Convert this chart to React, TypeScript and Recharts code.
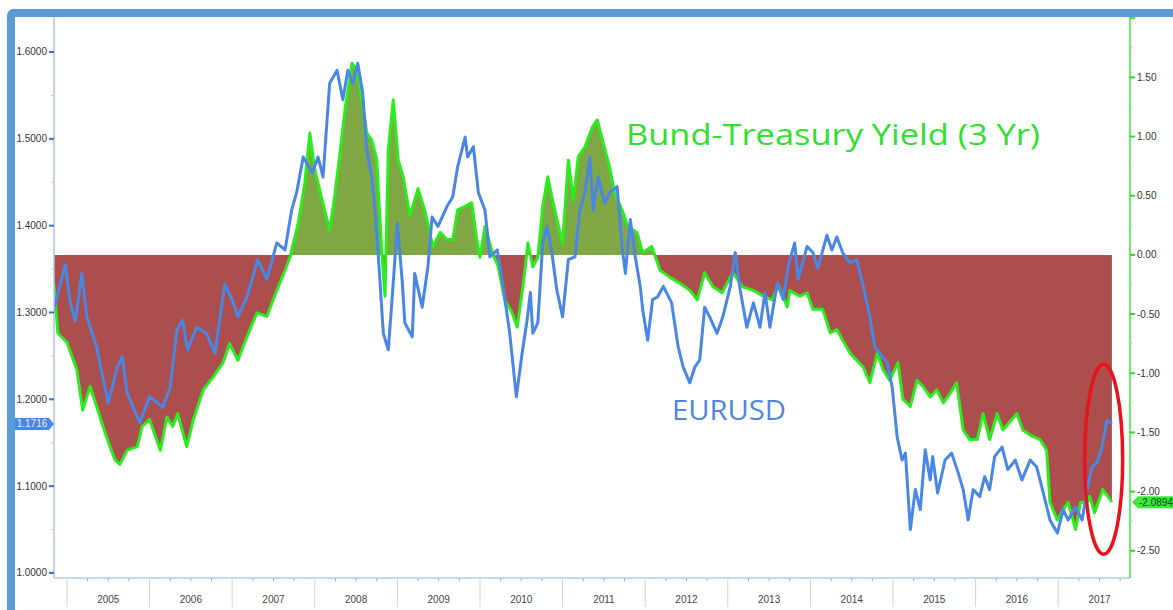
import { Area, ComposedChart, Line, ReferenceDot, XAxis, YAxis } from "recharts";

// Bund-Treasury 3yr spread, [decimal year, %]
const spreadSeries: [number, number][] = [
  [2004.84, -0.24], [2004.89, -0.66], [2005.0, -0.74], [2005.12, -0.97], [2005.19, -1.31], [2005.28, -1.11], [2005.4, -1.37],
  [2005.48, -1.54], [2005.58, -1.73], [2005.64, -1.77], [2005.73, -1.65], [2005.85, -1.62], [2005.91, -1.45],
  [2006.0, -1.39], [2006.13, -1.65], [2006.21, -1.37], [2006.28, -1.45], [2006.34, -1.34], [2006.45, -1.62], [2006.53, -1.39],
  [2006.65, -1.14], [2006.77, -1.03], [2006.89, -0.91], [2006.97, -0.75],
  [2007.07, -0.89], [2007.18, -0.69], [2007.3, -0.49], [2007.42, -0.52], [2007.54, -0.3], [2007.64, -0.13], [2007.7, -0.02],
  [2007.8, 0.27], [2007.88, 0.61], [2007.94, 1.03],
  [2008.0, 0.72], [2008.09, 0.46], [2008.18, 0.21], [2008.24, 0.49], [2008.31, 0.89], [2008.37, 1.25], [2008.45, 1.62],
  [2008.51, 1.56], [2008.57, 1.31], [2008.63, 1.03], [2008.69, 0.97], [2008.75, 0.8], [2008.81, 0.04], [2008.85, -0.35],
  [2008.89, 0.89], [2008.95, 1.31],
  [2009.01, 0.8], [2009.07, 0.66], [2009.15, 0.33], [2009.25, 0.56], [2009.33, 0.38], [2009.43, 0.07], [2009.52, 0.19],
  [2009.6, 0.13], [2009.67, 0.13], [2009.73, 0.38], [2009.82, 0.41], [2009.9, 0.44], [2009.96, 0.13],
  [2010.0, -0.02], [2010.06, 0.24], [2010.15, 0.02], [2010.22, -0.1], [2010.3, -0.38], [2010.39, -0.49], [2010.45, -0.61],
  [2010.52, -0.27], [2010.58, 0.1], [2010.64, -0.1], [2010.7, -0.02], [2010.76, 0.41], [2010.82, 0.66], [2010.88, 0.46], [2010.94, 0.27],
  [2011.0, 0.1], [2011.07, 0.8], [2011.13, 0.46], [2011.19, 0.83], [2011.27, 0.91], [2011.36, 1.08], [2011.42, 1.14],
  [2011.49, 0.95], [2011.57, 0.74], [2011.63, 0.52], [2011.72, 0.38], [2011.79, 0.24], [2011.9, 0.19], [2011.97, 0.02],
  [2012.08, 0.07], [2012.18, -0.13], [2012.3, -0.19], [2012.42, -0.24], [2012.54, -0.3], [2012.63, -0.38], [2012.72, -0.15],
  [2012.82, -0.27], [2012.93, -0.32],
  [2013.06, -0.15], [2013.18, -0.27], [2013.31, -0.3], [2013.43, -0.35], [2013.54, -0.38], [2013.61, -0.25], [2013.72, -0.44],
  [2013.75, -0.3], [2013.87, -0.35], [2013.96, -0.32],
  [2014.03, -0.46], [2014.15, -0.46], [2014.24, -0.66], [2014.32, -0.63], [2014.39, -0.72], [2014.48, -0.83], [2014.56, -0.89],
  [2014.64, -0.95], [2014.72, -1.08], [2014.81, -0.83], [2014.88, -0.97], [2014.96, -1.06],
  [2015.06, -0.91], [2015.12, -1.22], [2015.21, -1.28], [2015.29, -1.06], [2015.36, -1.11], [2015.45, -1.2], [2015.53, -1.14],
  [2015.61, -1.25], [2015.69, -1.17], [2015.77, -1.08], [2015.85, -1.48], [2015.93, -1.56],
  [2016.02, -1.56], [2016.09, -1.34], [2016.17, -1.56], [2016.26, -1.34], [2016.33, -1.48], [2016.5, -1.34], [2016.57, -1.48],
  [2016.68, -1.53], [2016.78, -1.56], [2016.86, -1.65], [2016.9, -2.09], [2016.99, -2.24],
  [2017.06, -2.15], [2017.12, -2.09], [2017.21, -2.32], [2017.27, -2.09], [2017.35, -2.09], [2017.38, -2.04], [2017.44, -2.18],
  [2017.54, -1.98], [2017.65, -2.09],
];

// EURUSD, [decimal year, rate]
const eurSeries: [number, number][] = [
  [2004.83, 1.3], [2004.98, 1.355], [2005.04, 1.311], [2005.1, 1.29], [2005.18, 1.345], [2005.24, 1.295], [2005.36, 1.26],
  [2005.44, 1.222], [2005.5, 1.196], [2005.61, 1.237], [2005.67, 1.249], [2005.73, 1.207], [2005.88, 1.173],
  [2006.0, 1.203], [2006.16, 1.191], [2006.25, 1.214], [2006.33, 1.28], [2006.4, 1.291], [2006.46, 1.257], [2006.57, 1.283],
  [2006.69, 1.276], [2006.79, 1.253], [2006.91, 1.332],
  [2007.0, 1.315], [2007.07, 1.295], [2007.18, 1.318], [2007.31, 1.361], [2007.42, 1.338], [2007.54, 1.38], [2007.64, 1.372],
  [2007.72, 1.418], [2007.78, 1.438], [2007.86, 1.479], [2007.97, 1.461],
  [2008.04, 1.479], [2008.1, 1.456], [2008.18, 1.564], [2008.27, 1.579], [2008.34, 1.545], [2008.4, 1.579], [2008.46, 1.564],
  [2008.52, 1.587], [2008.58, 1.553], [2008.63, 1.487], [2008.69, 1.456], [2008.73, 1.418], [2008.77, 1.364], [2008.83, 1.276],
  [2008.89, 1.257], [2008.95, 1.334],
  [2009.0, 1.403], [2009.06, 1.334], [2009.09, 1.288], [2009.18, 1.272], [2009.21, 1.345], [2009.3, 1.306], [2009.37, 1.353],
  [2009.42, 1.41], [2009.49, 1.399], [2009.6, 1.422], [2009.67, 1.433], [2009.73, 1.468], [2009.82, 1.502], [2009.85, 1.479],
  [2009.92, 1.491], [2009.98, 1.438],
  [2010.06, 1.418], [2010.12, 1.364], [2010.21, 1.372], [2010.28, 1.33], [2010.36, 1.276], [2010.44, 1.203], [2010.51, 1.253],
  [2010.57, 1.291], [2010.61, 1.323], [2010.64, 1.276], [2010.7, 1.288], [2010.76, 1.38], [2010.81, 1.399], [2010.87, 1.369],
  [2010.93, 1.326],
  [2011.0, 1.295], [2011.07, 1.361], [2011.15, 1.364], [2011.21, 1.418], [2011.27, 1.438], [2011.33, 1.479], [2011.37, 1.418],
  [2011.43, 1.456], [2011.51, 1.426], [2011.57, 1.438], [2011.66, 1.445], [2011.72, 1.376], [2011.76, 1.345], [2011.82, 1.407],
  [2011.88, 1.364], [2011.94, 1.33], [2011.97, 1.303],
  [2012.03, 1.268], [2012.09, 1.315], [2012.15, 1.318], [2012.22, 1.33], [2012.32, 1.311], [2012.4, 1.26], [2012.46, 1.237],
  [2012.54, 1.219], [2012.6, 1.237], [2012.66, 1.245], [2012.72, 1.306], [2012.78, 1.295], [2012.87, 1.276], [2012.94, 1.295],
  [2013.03, 1.33], [2013.09, 1.369], [2013.15, 1.326], [2013.23, 1.283], [2013.31, 1.311], [2013.39, 1.283], [2013.45, 1.323],
  [2013.51, 1.283], [2013.6, 1.334], [2013.67, 1.315], [2013.73, 1.353], [2013.81, 1.38], [2013.85, 1.338], [2013.96, 1.376],
  [2014.03, 1.369], [2014.09, 1.351], [2014.2, 1.389], [2014.26, 1.372], [2014.32, 1.387], [2014.39, 1.369], [2014.48, 1.357],
  [2014.56, 1.361], [2014.64, 1.33], [2014.72, 1.295], [2014.78, 1.26], [2014.84, 1.253], [2014.93, 1.242], [2014.99, 1.214],
  [2015.05, 1.157], [2015.11, 1.13], [2015.15, 1.138], [2015.21, 1.05], [2015.27, 1.096], [2015.33, 1.073], [2015.39, 1.142],
  [2015.45, 1.107], [2015.48, 1.134], [2015.54, 1.092], [2015.63, 1.13], [2015.71, 1.138], [2015.79, 1.115], [2015.85, 1.096],
  [2015.91, 1.061], [2015.97, 1.096],
  [2016.05, 1.088], [2016.11, 1.111], [2016.17, 1.096], [2016.23, 1.134], [2016.32, 1.145], [2016.39, 1.119], [2016.48, 1.13],
  [2016.56, 1.107], [2016.66, 1.13], [2016.74, 1.122], [2016.82, 1.092], [2016.9, 1.061], [2016.99, 1.046],
  [2017.06, 1.073], [2017.12, 1.061], [2017.21, 1.076], [2017.29, 1.061], [2017.35, 1.096], [2017.41, 1.122], [2017.47, 1.127],
  [2017.53, 1.145], [2017.59, 1.176], [2017.65, 1.172],
];

const yearLabels = ["2005", "2006", "2007", "2008", "2009", "2010", "2011", "2012", "2013", "2014", "2015", "2016", "2017"];
const eurTicks = [1.0, 1.05, 1.1, 1.15, 1.2, 1.25, 1.3, 1.35, 1.4, 1.45, 1.5, 1.55, 1.6];
const spreadTicks = [-2.5, -2.25, -2.0, -1.75, -1.5, -1.25, -1.0, -0.75, -0.5, -0.25, 0, 0.25, 0.5, 0.75, 1.0, 1.25, 1.5, 1.75, 2.0];
const lastEur = 1.1716;
const lastSpread = -2.0894;
const circled = { t: 2017.55, eur: 1.131 };

const X_MIN = 2004.843;
const X_MAX = 2017.869;
const EUR_MIN = 0.9942;
const EUR_MAX = 1.6403;
const SP_MIN = -2.73;
const SP_MAX = 2.01;
const PLOT_TOP = 17;
const PLOT_BOTTOM = 578;

const quarterTicks = yearLabels.flatMap((y) => [0, 0.25, 0.5, 0.75].map((q) => Number(y) + q));
const spreadData = spreadSeries.map(([t, v]) => ({ t, spread: v }));
const eurData = eurSeries.map(([t, v]) => ({ t, eur: v }));
const zeroOffset = SP_MAX / (SP_MAX - SP_MIN);

const FONT = "'Liberation Sans', Arial, sans-serif";

const YearTick = (props: any) => {
  const { x, y, payload } = props;
  const v: number = payload.value;
  const yr = Math.floor(v + 1e-6);
  const q = Math.round((v - yr) * 4);
  if (q === 0) {
    return <line x1={x} x2={x} y1={y} y2={y + 29} stroke="#CAD3E4" strokeWidth={1} />;
  }
  return (
    <g>
      <line x1={x} x2={x} y1={y} y2={y + 3} stroke="#98AED6" strokeWidth={1} />
      {q === 2 && (
        <text x={x} y={y + 25} textAnchor="middle" fontSize={10} fill="#444" fontFamily={FONT}>
          {yearLabels[yr - 2005]}
        </text>
      )}
    </g>
  );
};

const EurTick = (props: any) => {
  const { x, y, payload } = props;
  const v: number = payload.value;
  const major = Math.abs(v * 10 - Math.round(v * 10)) < 1e-6;
  if (!major) return <line x1={x - 3} x2={x} y1={y} y2={y} stroke="#C4CCDA" strokeWidth={1} />;
  return (
    <g>
      <line x1={x - 5} x2={x} y1={y} y2={y} stroke="#3A6ED2" strokeWidth={2} />
      <text x={x - 7} y={y + 3.5} textAnchor="end" fontSize={10} fill="#333" fontFamily={FONT}>
        {v.toFixed(4)}
      </text>
    </g>
  );
};

const SpreadTick = (props: any) => {
  const { x, y, payload } = props;
  const v: number = payload.value;
  const major = Math.abs(v * 2 - Math.round(v * 2)) < 1e-6;
  if (!major) return <line x1={x} x2={x + 3} y1={y} y2={y} stroke="#B9D9B9" strokeWidth={1} />;
  return (
    <g>
      <line x1={x} x2={x + 5} y1={y} y2={y} stroke="#2FD82F" strokeWidth={2} />
      {v < 1.9 && (
        <text x={x + 7} y={y + 3.5} textAnchor="start" fontSize={10} fill="#333" fontFamily={FONT}>
          {v.toFixed(2)}
        </text>
      )}
    </g>
  );
};

const EurTag = (props: any) => {
  const { cx, cy } = props;
  return (
    <g>
      <path
        d={`M${cx - 39},${cy - 6} L${cx - 5},${cy - 6} L${cx},${cy} L${cx - 5},${cy + 6} L${cx - 39},${cy + 6} Q${cx - 41},${cy} ${cx - 39},${cy - 6} Z`}
        fill="#4A86E8"
      />
      <text x={cx - 22} y={cy + 3.5} textAnchor="middle" fontSize={10} fill="#E6EEFF" fontFamily={FONT}>
        {lastEur.toFixed(4)}
      </text>
    </g>
  );
};

const SpreadTag = (props: any) => {
  const { cx, cy } = props;
  return (
    <g>
      <path d={`M${cx + 2},${cy} L${cx + 8},${cy - 6} L${cx + 50},${cy - 6} L${cx + 50},${cy + 6} L${cx + 8},${cy + 6} Z`} fill="#3BEA3B" />
      <text x={cx + 9} y={cy + 3.5} textAnchor="start" fontSize={10} fill="#0C4A0C" fontFamily={FONT}>
        {lastSpread.toFixed(4)}
      </text>
    </g>
  );
};

const Circle = (props: any) => {
  const { cx, cy } = props;
  return <ellipse cx={cx} cy={cy} rx={19} ry={95} fill="none" stroke="#E8141B" strokeWidth={3.5} />;
};

export default function App() {
  return (
    <div style={{ position: "absolute", left: 0, top: 0, width: 1173, height: 610, background: "#fff", overflow: "hidden" }}>
      <ComposedChart width={1173} height={610} margin={{ top: PLOT_TOP, right: 0, bottom: 0, left: 0 }}>
        <defs>
          <linearGradient id="spreadFill" gradientUnits="userSpaceOnUse" x1="0" y1={PLOT_TOP} x2="0" y2={PLOT_BOTTOM}>
            <stop offset={zeroOffset} stopColor="#7FA845" />
            <stop offset={zeroOffset} stopColor="#AD4E4E" />
          </linearGradient>
        </defs>
        <XAxis
          dataKey="t"
          type="number"
          domain={[X_MIN, X_MAX]}
          allowDataOverflow
          ticks={quarterTicks}
          interval={0}
          tick={<YearTick />}
          tickLine={false}
          tickSize={0}
          tickMargin={0}
          height={610 - PLOT_BOTTOM}
          axisLine={{ stroke: "#B7CAEA", strokeWidth: 1.5 }}
        />
        <YAxis
          yAxisId="eur"
          orientation="left"
          width={54}
          type="number"
          domain={[EUR_MIN, EUR_MAX]}
          allowDataOverflow
          ticks={eurTicks}
          interval={0}
          tick={<EurTick />}
          tickLine={false}
          tickSize={0}
          tickMargin={0}
          axisLine={{ stroke: "#ABC4EE", strokeWidth: 1.5 }}
        />
        <YAxis
          yAxisId="spread"
          orientation="right"
          width={43}
          type="number"
          domain={[SP_MIN, SP_MAX]}
          allowDataOverflow
          ticks={spreadTicks}
          interval={0}
          tick={<SpreadTick />}
          tickLine={false}
          tickSize={0}
          tickMargin={0}
          axisLine={{ stroke: "#3EE43E", strokeWidth: 1.5 }}
        />
        <Area
          yAxisId="spread"
          data={spreadData}
          dataKey="spread"
          type="linear"
          stroke="#2CEB1E"
          strokeWidth={3}
          strokeLinejoin="round"
          fill="url(#spreadFill)"
          fillOpacity={1}
          isAnimationActive={false}
          dot={false}
          activeDot={false}
        />
        <Line
          yAxisId="eur"
          data={eurData}
          dataKey="eur"
          type="linear"
          stroke="#4A86E4"
          strokeWidth={3}
          strokeLinejoin="round"
          dot={false}
          activeDot={false}
          isAnimationActive={false}
        />
        <ReferenceDot yAxisId="eur" x={circled.t} y={circled.eur} ifOverflow="visible" shape={(p: any) => <Circle {...p} />} />
        <ReferenceDot yAxisId="eur" x={X_MIN} y={lastEur} ifOverflow="visible" shape={(p: any) => <EurTag {...p} />} />
        <ReferenceDot yAxisId="spread" x={X_MAX} y={lastSpread} ifOverflow="visible" shape={(p: any) => <SpreadTag {...p} />} />
      </ComposedChart>
      <svg width={1173} height={610} style={{ position: "absolute", left: 0, top: 0, pointerEvents: "none" }}>
        <text x={626} y={145} fontSize={30} fill="#2FE02F" fontFamily="'Open Sans', sans-serif" textLength={414} lengthAdjust="spacingAndGlyphs">
          Bund-Treasury Yield (3 Yr)
        </text>
        <text x={672} y={420} fontSize={28} fill="#4F86DC" fontFamily="'Open Sans', sans-serif" textLength={114} lengthAdjust="spacingAndGlyphs">
          EURUSD
        </text>
      </svg>
      <div
        style={{
          position: "absolute",
          left: 7,
          top: 9,
          width: 1200,
          height: 700,
          borderTop: "8px solid #5A9BD7",
          borderLeft: "8px solid #5A9BD7",
          borderTopLeftRadius: 7,
          boxSizing: "border-box",
          pointerEvents: "none",
        }}
      />
    </div>
  );
}
